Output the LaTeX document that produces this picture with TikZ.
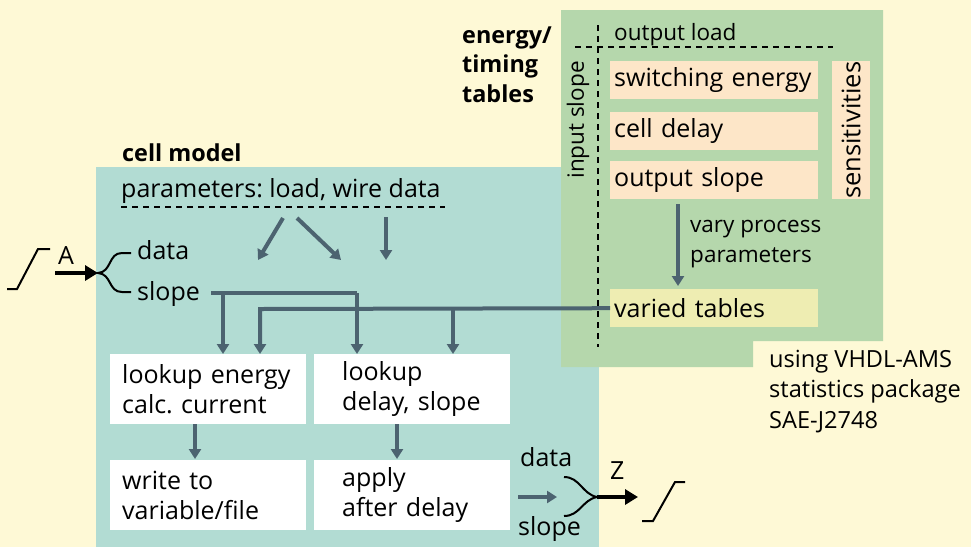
\documentclass[tikz,border=0pt]{standalone}
\usepackage{fontspec}
\setmainfont{Open Sans}
\frenchspacing
\usetikzlibrary{arrows.meta,calc}
\definecolor{cream}{HTML}{FEF9D6}
\definecolor{tealbg}{HTML}{B2DCD3}
\definecolor{greenbg}{HTML}{B5D7AC}
\definecolor{peach}{HTML}{FDE6C8}
\definecolor{paleyel}{HTML}{EEEDB2}
\definecolor{arrgray}{HTML}{4C6370}
\tikzset{
  txt/.style={inner sep=0pt, anchor=base west, font=\fontsize{25}{30}\selectfont},
  smalltxt/.style={inner sep=0pt, anchor=base west, font=\fontsize{22.5}{30}\selectfont},
  boldtxt/.style={inner sep=0pt, anchor=base west, align=left, font=\fontsize{23.4}{29.5}\selectfont\bfseries},
  wbox/.style={fill=white, draw=none, anchor=north west, minimum width=196pt, minimum height=70pt,
    align=left, font=\fontsize{25}{30}\selectfont, inner ysep=0pt},
  pbox/.style={fill=peach, draw=none, anchor=north west, minimum width=208pt, minimum height=38pt,
    inner xsep=4pt, text width=200pt, align=left, font=\fontsize{25}{30}\selectfont},
  garr/.style={draw=arrgray, line width=4pt, -{Triangle[width=12pt,length=10pt]}},
  gline/.style={draw=arrgray, line width=4pt},
  barr/.style={draw=black, line width=4.5pt, -{Triangle[width=15pt,length=13pt]}},
  dline/.style={draw=black, line width=1.4pt, dash pattern=on 6pt off 5pt},
  brace/.style={draw=black, line width=2pt},
}
\begin{document}
\begin{tikzpicture}[x=1pt,y=-1pt]
\useasboundingbox (0,0) rectangle (971,547);
\fill[cream] (0,0) rectangle (971,547);
% cell model box
\fill[tealbg] (96,167) rectangle (599,547);
% energy/timing tables box
\fill[greenbg] (561,10) -- (883,10) -- (883,341) -- (753,341) -- (753,367) -- (561,367) -- cycle;

% titles
\node[boldtxt] (cellttl) at (122,161) {cell model};
\node[boldtxt] (tblttl) at (462,102) {energy/\\timing\\tables};

% table contents
\draw[dline] (598,25) -- (598,347);
\draw[dline] (575,47) -- (833,47);
\node[smalltxt] (outload) at (614,40) {output load};
\node[smalltxt, rotate=90, anchor=center] (inslope) at (578,120) {input slope};
\node[pbox] (swe) at (610,61) {switching energy};
\node[pbox] (cdel) at (610,112) {cell delay};
\node[pbox] (osl) at (610,161) {output slope};
\node[fill=peach, anchor=north west, minimum width=38pt, minimum height=138pt, inner sep=0pt] (sensbox) at (832,61) {};
\node[rotate=90, inner sep=0pt, font=\fontsize{25.5}{30}\selectfont] (sens) at (sensbox.center) {sensitivities};
\node[pbox, fill=paleyel] (varied) at (610,289) {varied tables};
\coordinate (o1) at (678,204);
\coordinate (o2) at (678,286);
\draw[garr] (o1) -- (o2);
\node[smalltxt, align=left] (vary) at (690,262) {vary process\\parameters};

% parameters
\node[txt] (params) at (121,197) {parameters: load, wire data};
\draw[dline] (121,207) -- (445,207);
\coordinate (p1s) at (283,218); \coordinate (p1e) at (258,260);
\coordinate (p2s) at (297,218); \coordinate (p2e) at (341,260);
\coordinate (p3s) at (386,217); \coordinate (p3e) at (386,260);
\draw[garr] (p1s) -- (p1e);
\draw[garr] (p2s) -- (p2e);
\draw[garr] (p3s) -- (p3e);

% input A
\node[txt] (data1) at (137,259) {data};
\node[txt] (slope1) at (137,300) {slope};
\coordinate (btip) at (98,273);
\draw[brace] (131,253) -- (122,253) .. controls (108,253) and (112,272) .. (btip)
  .. controls (112,274) and (108,292) .. (122,292) -- (131,292);
\coordinate (ain) at (55,273);
\draw[barr] (ain) -- (btip);
\node[txt] (alab) at (58,264) {A};
\draw[brace] (7,289) -- (17,289) -- (38,249) -- (50,249);

% boxes
\node[wbox, inner xsep=12pt, text width=172pt] (lookE) at (110,354) {lookup energy\\calc. current};
\node[wbox, inner xsep=28pt, text width=140pt] (lookD) at (314,354) {lookup\\delay, slope};
\node[wbox, inner xsep=12pt, text width=172pt] (write) at (110,460) {write to\\variable/file};
\node[wbox, inner xsep=28pt, text width=140pt] (apply) at (314,460) {apply\\after delay};

% slope connections
\coordinate (s0) at (211,293);
\coordinate (s1) at (223,293);
\coordinate (s2) at (357,293);
\draw[gline] (s0) -- (s2);
\draw[garr] (s1) -- (s1 |- lookE.north);
\draw[garr] (s2) -- (s2 |- lookD.north);
% varied tables connections
\coordinate (v1) at (260,309);
\coordinate (v2) at (453,309);
\draw[garr] (varied.west) -- (v1) -- (v1 |- lookE.north);
\draw[garr] (v2) -- (v2 |- lookD.north);

% box to box
\draw[garr] (195,424) -- (195,459);
\draw[garr] (397,424) -- (397,459);

% output
\coordinate (oa) at (518,497);
\coordinate (ob) at (557,497);
\draw[garr] (oa) -- (ob);
\coordinate (ztip) at (597,497);
\draw[brace] (564,477) .. controls (580,477) and (582,494) .. (ztip)
  .. controls (582,500) and (580,516) .. (564,516);
\node[txt] (data2) at (520,466) {data};
\node[txt] (slope2) at (518,535) {slope};
\coordinate (zend) at (638,497);
\draw[barr] (ztip) -- (zend);
\node[txt] (zlab) at (610,479) {Z};
\draw[brace] (642,521) -- (653,521) -- (675,482) -- (685,482);

% note
\node[txt, align=left, font=\fontsize{23.6}{30.5}\selectfont] (note) at (769,428) {using VHDL-AMS\\statistics package\\SAE-J2748};
\end{tikzpicture}
\end{document}
